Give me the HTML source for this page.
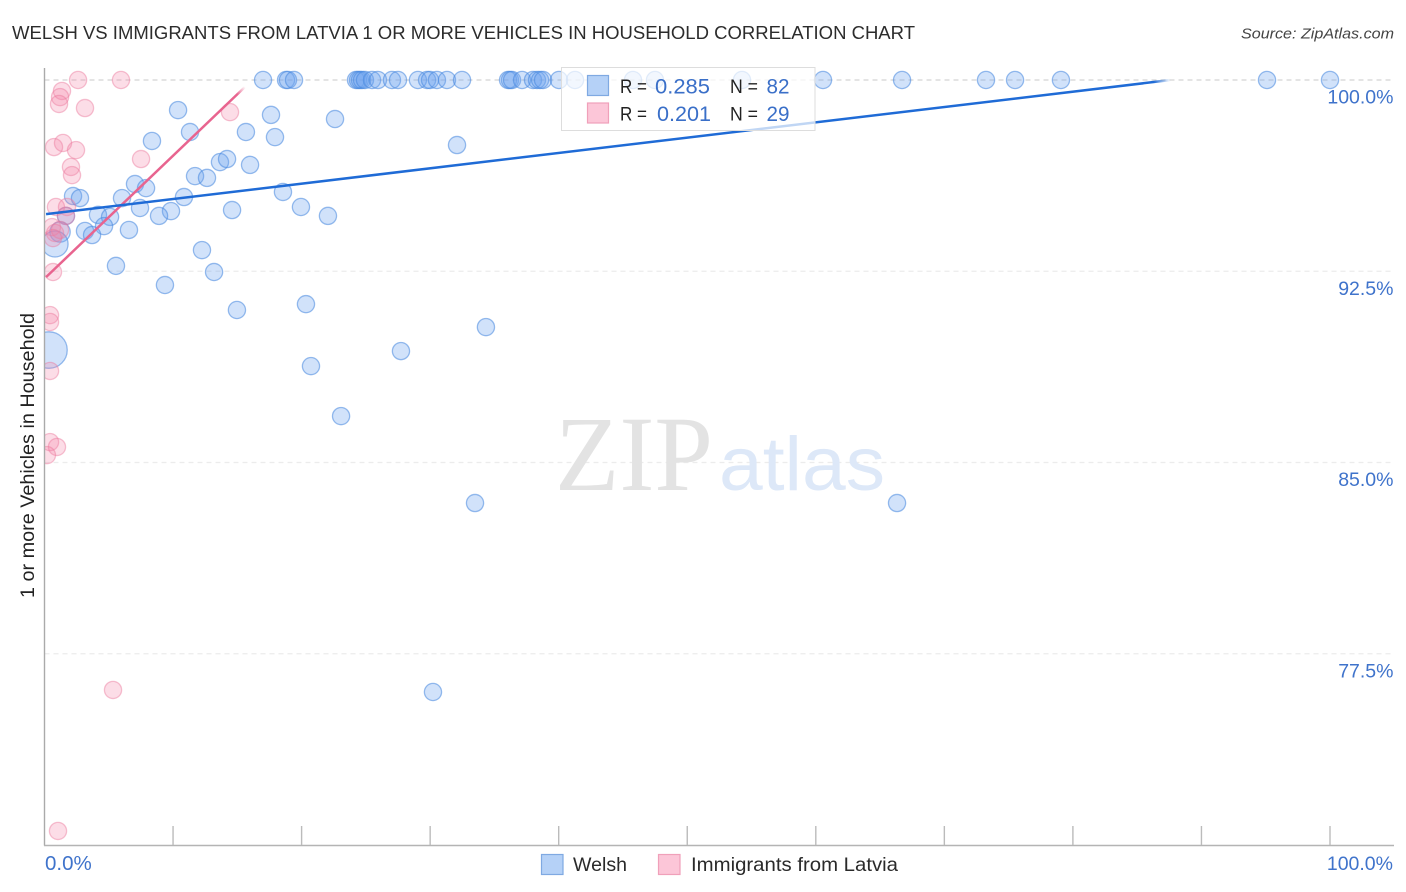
<!DOCTYPE html>
<html lang="en">
<head>
<meta charset="utf-8">
<title>Welsh vs Immigrants from Latvia correlation chart</title>
<style>
html,body{margin:0;padding:0;background:#fff;width:1406px;height:892px;overflow:hidden}
svg{display:block;font-family:"Liberation Sans",sans-serif}
</style>
</head>
<body>
<svg id="chart" width="1406" height="892" viewBox="0 0 1406 892" xmlns="http://www.w3.org/2000/svg">
  <defs>
    <clipPath id="plot-clip"><rect x="44.5" y="60" width="1350" height="785"/></clipPath>
  </defs>
  <text x="12" y="39" font-size="18.5" fill="#2c2c2c" textLength="903" lengthAdjust="spacingAndGlyphs">WELSH VS IMMIGRANTS FROM LATVIA 1 OR MORE VEHICLES IN HOUSEHOLD CORRELATION CHART</text>
  <text x="1241" y="38.5" font-size="15" font-style="italic" fill="#444" textLength="153" lengthAdjust="spacingAndGlyphs">Source: ZipAtlas.com</text>
  <text transform="translate(34,598) rotate(-90)" font-size="19" fill="#222" textLength="285" lengthAdjust="spacingAndGlyphs">1 or more Vehicles in Household</text>

  <g id="grid"></g>
  <g>
    <text x="555" y="490" font-family="'Liberation Serif',serif" font-size="107" fill="#e3e3e3" textLength="158" lengthAdjust="spacingAndGlyphs">ZIP</text>
    <text x="719" y="490" font-size="76" fill="#dde8f8" textLength="166" lengthAdjust="spacingAndGlyphs">atlas</text>
  </g>
  <g id="marks" clip-path="url(#plot-clip)"></g>
  <g id="axes"></g>

  <g>
    <rect x="561.5" y="67.5" width="253.5" height="63" fill="#fff" fill-opacity="0.72" stroke="#ddd" stroke-width="1"/>
    <rect x="587.5" y="75.5" width="21" height="20" fill="#b5d1f7" stroke="#7fa9e2" stroke-width="1.2"/>
    <rect x="587.5" y="103" width="21" height="20" fill="#fcc6d8" stroke="#f0a0ba" stroke-width="1.2"/>
    <text x="620" y="93" font-size="19" fill="#222" textLength="27" lengthAdjust="spacingAndGlyphs">R =</text>
    <text x="655" y="93.5" font-size="21" fill="#3a6fc8" textLength="55" lengthAdjust="spacingAndGlyphs">0.285</text>
    <text x="730" y="93" font-size="19" fill="#222" textLength="28" lengthAdjust="spacingAndGlyphs">N =</text>
    <text x="766.5" y="93.5" font-size="21" fill="#3a6fc8" textLength="23" lengthAdjust="spacingAndGlyphs">82</text>
    <text x="620" y="120.5" font-size="19" fill="#222" textLength="27" lengthAdjust="spacingAndGlyphs">R =</text>
    <text x="657" y="121" font-size="21" fill="#3a6fc8" textLength="54" lengthAdjust="spacingAndGlyphs">0.201</text>
    <text x="730" y="120.5" font-size="19" fill="#222" textLength="28" lengthAdjust="spacingAndGlyphs">N =</text>
    <text x="766.5" y="121" font-size="21" fill="#3a6fc8" textLength="23" lengthAdjust="spacingAndGlyphs">29</text>
  </g>

  <g>
    <rect x="541.5" y="854.5" width="21.5" height="20" fill="#b5d1f7" stroke="#7fa9e2" stroke-width="1.2"/>
    <text x="573" y="871" font-size="19.5" fill="#2a2a2a" textLength="54" lengthAdjust="spacingAndGlyphs">Welsh</text>
    <rect x="658.5" y="854.5" width="21.5" height="20" fill="#fcc6d8" stroke="#f0a0ba" stroke-width="1.2"/>
    <text x="691" y="871" font-size="19.5" fill="#2a2a2a" textLength="207" lengthAdjust="spacingAndGlyphs">Immigrants from Latvia</text>
  </g>
</svg>
<script>
// Chart data, in axis units (percent)
const yTickValues = [100, 92.5, 85, 77.5];
const yTickLabels = ['100.0%', '92.5%', '85.0%', '77.5%'];
const xTickValues = [10, 20, 30, 40, 50, 60, 70, 80, 90, 100];
const xEndValues = [0, 100];
const xEndLabels = ['0.0%', '100.0%'];

const welshTopRowX = [17.00,18.79,18.94,19.41,24.23,24.39,24.54,24.70,24.93,25.48,25.94,27.03,27.50,29.05,29.76,29.99,30.53,31.31,32.48,36.06,36.21,36.37,37.15,38.00,38.31,38.55,38.78,40.02,41.27,45.78,47.49,54.26,60.56,66.71,73.24,75.50,79.07,95.10,100];
const welshX = [10.39,11.32,8.36,17.62,15.67,17.93,22.60,32.09,13.65,14.20,15.99,11.71,12.64,7.04,7.90,2.22,2.76,6.03,10.85,18.55,19.95,7.43,9.84,14.59,8.91,22.05,4.16,5.10,1.67,4.63,3.15,3.70,6.57,12.25,5.56,13.19,9.37,14.97,20.34,34.34,27.73,20.73,23.07,33.49,66.32,30.22];
const welshY = [98.82,97.96,97.61,98.63,97.96,97.76,98.47,97.45,96.78,96.90,96.67,96.23,96.16,95.92,95.76,95.45,95.37,95.37,95.41,95.61,95.02,94.98,94.86,94.90,94.67,94.67,94.71,94.63,94.67,94.27,94.08,93.92,94.12,93.33,92.71,92.47,91.96,90.98,91.21,90.31,89.37,88.78,86.82,83.41,83.41,76.00];
const welshLargeX = [1.21,0.82,0.35];
const welshLargeY = [94.04,93.57,89.41];
const welshLargeWeight = [1.4,2.3,4.5];

const latviaX = [2.61,5.95,1.36,1.21,1.13,3.15,14.43,0.74,1.44,2.45,7.51,2.06,2.14,0.89,1.75,1.67,0.58,0.82,1.21,0.66,0.66,0.43,0.43,0.43,0.43,0.97,0.19,5.33,1.05];
const latviaY = [100,100,99.57,99.33,99.06,98.90,98.74,97.37,97.53,97.25,96.90,96.59,96.27,95.02,95.02,94.67,94.23,94.00,94.12,93.80,92.47,90.78,90.51,88.59,85.80,85.61,85.29,76.08,70.55];

const welshTrendX = [0.12,87.6];
const welshTrendY = [94.74,100];
const latviaTrendX = [0.12,15.6];
const latviaTrendY = [92.27,99.73];

// Axis functions
const xScale = v => 44.5 + v * 12.855;
const yScale = v => 80 + (100 - v) * 25.5;
const baseRadius = 8.6;
const NS = 'http://www.w3.org/2000/svg';
const gridLayer = document.getElementById('grid');
const marksLayer = document.getElementById('marks');
const axesLayer = document.getElementById('axes');
const defsLayer = document.querySelector('defs');

function make(tag, attrs, parent) {
  const el = document.createElementNS(NS, tag);
  for (const k in attrs) el.setAttribute(k, attrs[k]);
  parent.appendChild(el);
  return el;
}

yTickValues.forEach((v, i) => {
  const line = make('line', {x1: 44.5, x2: 1394, y1: yScale(v), y2: yScale(v), stroke: i === 0 ? '#d4d4d4' : '#ececec', 'stroke-width': 1.2, 'stroke-dasharray': '5 4'}, gridLayer);
  
  
});

function drawCircle(cx, cy, r, fill, stroke, name) {
  const c = make('circle', {cx: cx, cy: cy, r: r, fill: fill, stroke: stroke, 'stroke-width': 1.3}, marksLayer);
  
  
}

const blueFill = 'rgba(105,160,238,0.31)';
const blueStroke = 'rgba(70,135,222,0.55)';
const pinkFill = 'rgba(245,130,165,0.27)';
const pinkStroke = 'rgba(235,120,155,0.45)';

welshTopRowX.forEach(x => {
  drawCircle(xScale(x), yScale(100), baseRadius, blueFill, blueStroke, 'welsh-point');
});
welshX.forEach((x, i) => {
  drawCircle(xScale(x), yScale(welshY[i]), baseRadius, blueFill, blueStroke, 'welsh-point');
});
welshLargeX.forEach((x, i) => {
  drawCircle(xScale(x), yScale(welshLargeY[i]), baseRadius * Math.sqrt(welshLargeWeight[i]), blueFill, blueStroke, 'welsh-point-large');
});
latviaX.forEach((x, i) => {
  drawCircle(xScale(x), yScale(latviaY[i]), baseRadius, pinkFill, pinkStroke, 'latvia-point');
});

function drawTrend(xs, ys, color, id, name, fadeShare) {
  const x1 = xScale(xs[0]), y1 = yScale(ys[0]), x2 = xScale(xs[1]), y2 = yScale(ys[1]);
  const g = make('linearGradient', {id: id, gradientUnits: 'userSpaceOnUse', x1: x1, y1: y1, x2: x2, y2: y2}, defsLayer);
  make('stop', {offset: 0, 'stop-color': color, 'stop-opacity': 1}, g);
  make('stop', {offset: fadeShare, 'stop-color': color, 'stop-opacity': 1}, g);
  make('stop', {offset: 1, 'stop-color': color, 'stop-opacity': 0}, g);
  const l = make('line', {x1: x1, y1: y1, x2: x2, y2: y2 + 0.01, stroke: 'url(#' + id + ')', 'stroke-width': 2.5}, marksLayer);
  
  
}
drawTrend(latviaTrendX, latviaTrendY, '#e8648f', 'latvia-fade', 'latvia-trend-line', 0.96);
drawTrend(welshTrendX, welshTrendY, '#1f6bd6', 'welsh-fade', 'welsh-trend-line', 0.985);

const yAxisLine = make('line', {x1: 44.5, x2: 44.5, y1: 68, y2: 845.5, stroke: '#aaa', 'stroke-width': 1.4}, axesLayer);


const xAxisLine = make('line', {x1: 44, x2: 1394, y1: 845.5, y2: 845.5, stroke: '#b4b4b4', 'stroke-width': 1.4}, axesLayer);



xTickValues.forEach(v => {
  const t = make('line', {x1: xScale(v), x2: xScale(v), y1: 826, y2: 845, stroke: '#bbb', 'stroke-width': 1.4}, axesLayer);
  
  
});

yTickValues.forEach((v, i) => {
  const t = make('text', {x: 1393.5, y: yScale(v) + 23.5, 'text-anchor': 'end', 'font-size': 19.5, fill: '#3f73cb'}, axesLayer);
  t.textContent = yTickLabels[i];
  
  
});

xEndValues.forEach((v, i) => {
  const t = make('text', {x: i === 0 ? xScale(v) + 0.5 : xScale(v) + 63, y: 870, 'text-anchor': i === 0 ? 'start' : 'end', 'font-size': i === 0 ? 20.5 : 19.5, fill: '#3f73cb'}, axesLayer);
  t.textContent = xEndLabels[i];
  
  
});
</script>
</body>
</html>
